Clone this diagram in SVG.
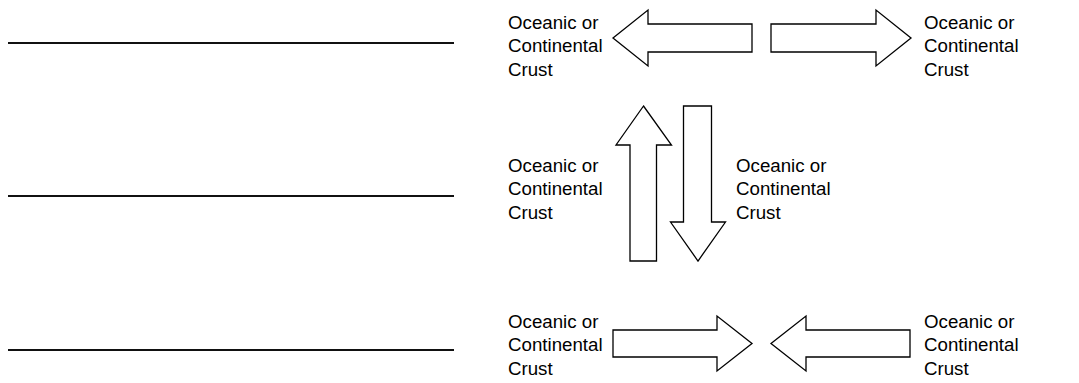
<svg xmlns="http://www.w3.org/2000/svg" width="1079" height="383" viewBox="0 0 1079 383">
<style>
.lbl{font-family:"Liberation Sans",Arial,sans-serif;font-size:18.7px;fill:#000}
.arr{fill:#fff;stroke:#000;stroke-width:1.3;stroke-linejoin:miter}
.blank{stroke:#111;stroke-width:2}
</style>
<rect width="1079" height="383" fill="#fff"/>
<g id="blanks">
<line class="blank" x1="8" y1="43" x2="454" y2="43"/>
<line class="blank" x1="8" y1="196" x2="454" y2="196"/>
<line class="blank" x1="8" y1="350" x2="454" y2="350"/>
</g>
<g id="connectors">
<polygon id="arrow-tl" class="arr" points="613,38 648,10 648,24 752,24 752,52 648,52 648,66"/>
<polygon id="arrow-tr" class="arr" points="771,24 876,24 876,10 911,38 876,66 876,52 771,52"/>
<polygon id="arrow-up" class="arr" points="643.5,106 671.5,145 656.5,145 656.5,261 630,261 630,145 616,145"/>
<polygon id="arrow-down" class="arr" points="683.5,106 711.5,106 711.5,222 725.5,222 698,261 670.5,222 683.5,222"/>
<polygon id="arrow-bl" class="arr" points="613,330 717,330 717,316 752,343.5 717,371 717,357 613,357"/>
<polygon id="arrow-br" class="arr" points="910,330 806,330 806,316 771,343.5 806,371 806,357 910,357"/>
</g>
<g id="label-tl"><text class="lbl" x="508" y="28.5">Oceanic or</text><text class="lbl" x="508" y="52">Continental</text><text class="lbl" x="508" y="75.5">Crust</text></g>
<g id="label-tr"><text class="lbl" x="924" y="28.5">Oceanic or</text><text class="lbl" x="924" y="52">Continental</text><text class="lbl" x="924" y="75.5">Crust</text></g>
<g id="label-ml"><text class="lbl" x="508" y="171.5">Oceanic or</text><text class="lbl" x="508" y="195">Continental</text><text class="lbl" x="508" y="218.5">Crust</text></g>
<g id="label-mr"><text class="lbl" x="736" y="171.5">Oceanic or</text><text class="lbl" x="736" y="195">Continental</text><text class="lbl" x="736" y="218.5">Crust</text></g>
<g id="label-bl"><text class="lbl" x="508" y="327.5">Oceanic or</text><text class="lbl" x="508" y="351">Continental</text><text class="lbl" x="508" y="374.5">Crust</text></g>
<g id="label-br"><text class="lbl" x="924" y="327.5">Oceanic or</text><text class="lbl" x="924" y="351">Continental</text><text class="lbl" x="924" y="374.5">Crust</text></g>
</svg>
